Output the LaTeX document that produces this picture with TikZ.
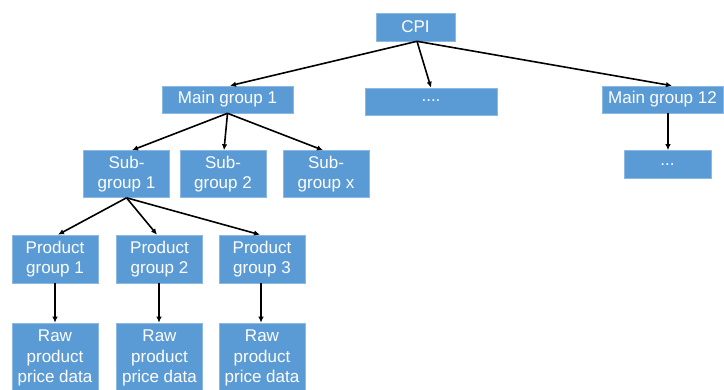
\documentclass[tikz,border=0pt]{standalone}
\usepackage{fontspec}
\setmainfont{Liberation Sans}
\usetikzlibrary{arrows.meta}
\definecolor{boxblue}{HTML}{5B9BD5}
\tikzset{
  box/.style={fill=boxblue, draw=boxblue!70!white, line width=0.6pt, text=white, inner sep=0pt, align=center,
    font=\fontsize{17}{20.5}\selectfont, anchor=center},
  conn/.style={line width=1.6pt, -{Latex[length=6pt,width=5.5pt]}}
}
\begin{document}
\begin{tikzpicture}[x=1pt,y=-1pt]
\useasboundingbox (0,0) rectangle (724,390);
\node[box, minimum width=79pt, minimum height=28pt] (cpi) at (415.5,27) {CPI};
\node[box, minimum width=131pt, minimum height=27pt] (mg1) at (227.5,99.5) {Main group 1};
\node[box, minimum width=132pt, minimum height=27pt] (mgd) at (431,101.5) {\raisebox{1pt}{....}};
\node[box, minimum width=121pt, minimum height=27pt] (mg12) at (662.5,99.5) {Main group 12};
\node[box, minimum width=87pt, minimum height=28pt] (mgd2) at (667.5,164.5) {...};
\node[box, minimum width=86pt, minimum height=47pt] (sg1) at (126.5,174) {Sub-\\group 1};
\node[box, minimum width=86pt, minimum height=47pt] (sg2) at (223,174) {Sub-\\group 2};
\node[box, minimum width=86pt, minimum height=47pt] (sgx) at (326,174) {Sub-\\group x};
\node[box, minimum width=86pt, minimum height=48pt] (pg1) at (55,259) {Product\\group 1};
\node[box, minimum width=86pt, minimum height=48pt] (pg2) at (159.5,259) {Product\\group 2};
\node[box, minimum width=86pt, minimum height=48pt] (pg3) at (262,259) {Product\\group 3};
\node[box, minimum width=86pt, minimum height=70pt] (raw1) at (55,358) {Raw\\product\\price data};
\node[box, minimum width=86pt, minimum height=70pt] (raw2) at (159.5,358) {Raw\\product\\price data};
\node[box, minimum width=86pt, minimum height=70pt] (raw3) at (262,358) {Raw\\product\\price data};
\draw[conn] ([xshift=1.5pt]cpi.south) -- ([xshift=2.5pt]mg1.north);
\draw[conn] ([xshift=1.5pt]cpi.south) -- (mgd.north);
\draw[conn] ([xshift=1.5pt]cpi.south) -- ([xshift=9.5pt]mg12.north);
\draw[conn] ([xshift=5.5pt]mg12.south) -- ([xshift=0.5pt]mgd2.north);
\draw[conn] (mg1.south) -- ([xshift=5.5pt]sg1.north);
\draw[conn] (mg1.south) -- ([xshift=1pt]sg2.north);
\draw[conn] (mg1.south) -- ([xshift=-3pt]sgx.north);
\draw[conn] (sg1.south) -- ([xshift=3pt]pg1.north);
\draw[conn] (sg1.south) -- ([xshift=-2.5pt]pg2.north);
\draw[conn] (sg1.south) -- ([xshift=-2pt]pg3.north);
\draw[conn] (pg1.south) -- (raw1.north);
\draw[conn] ([xshift=-0.5pt]pg2.south) -- ([xshift=-0.5pt]raw2.north);
\draw[conn] ([xshift=-1pt]pg3.south) -- ([xshift=-1pt]raw3.north);
\end{tikzpicture}
\end{document}
